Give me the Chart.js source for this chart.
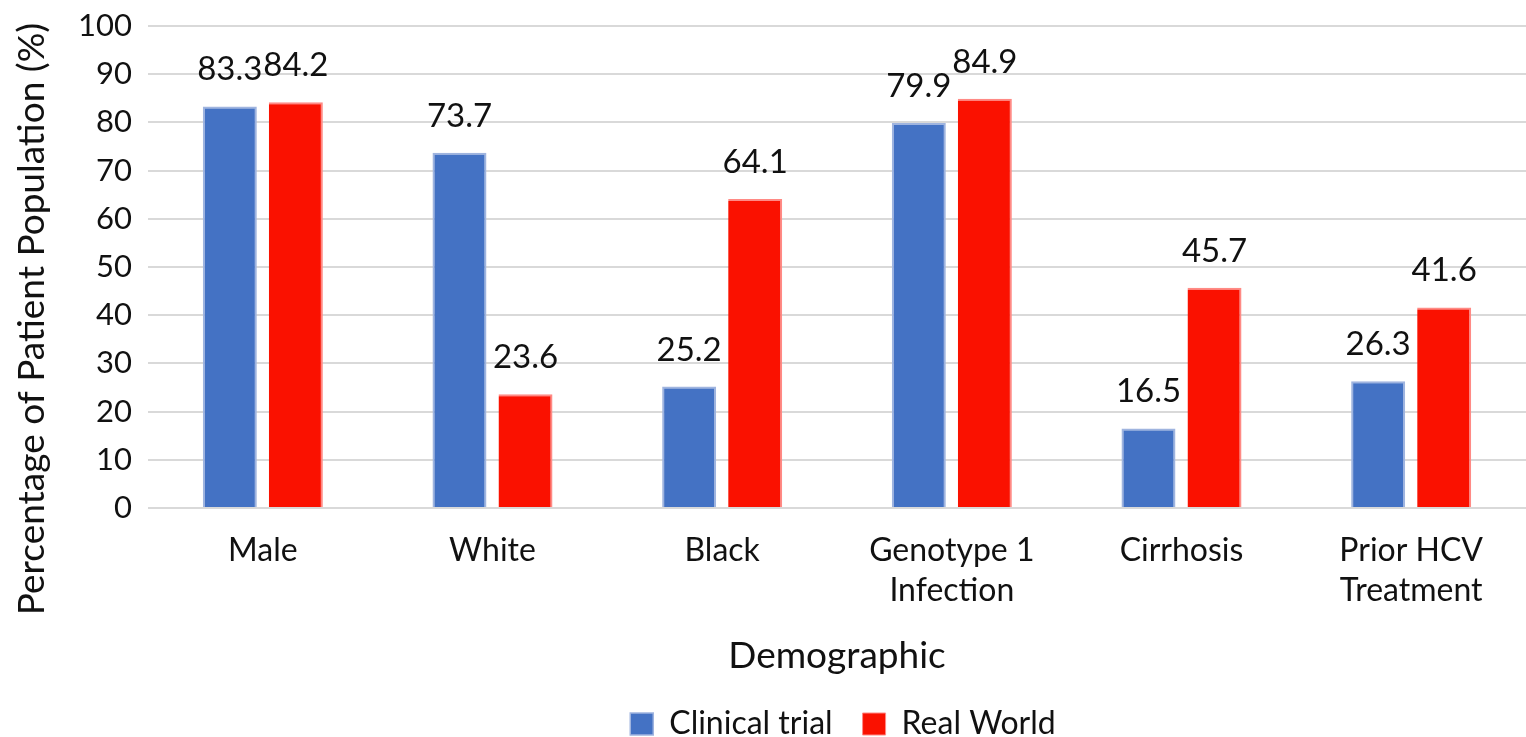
<!DOCTYPE html>
<html>
<head>
<meta charset="utf-8">
<script src="https://cdn.jsdelivr.net/npm/chart.js@4"></script>
<style>
  html, body { margin: 0; padding: 0; background: #fff; }
  #wrap { width: 1526px; height: 737px; position: relative; }
</style>
</head>
<body>
<div id="wrap"><canvas id="chart"></canvas></div>
<script>
// Demographic categories (multi-line labels as arrays)
const categories = [
  'Male',
  'White',
  'Black',
  ['Genotype 1', 'Infection'],
  'Cirrhosis',
  ['Prior HCV', 'Treatment']
];
// Percentage of patient population per group
const clinicalTrial = [83.3, 73.7, 25.2, 79.9, 16.5, 26.3];
const realWorld = [84.2, 23.6, 64.1, 84.9, 45.7, 41.6];
const seriesNames = ['Clinical trial', 'Real World'];
const yTicks = [0, 10, 20, 30, 40, 50, 60, 70, 80, 90, 100];
const xTitle = 'Demographic';
const yTitle = 'Percentage of Patient Population (%)';

const FONT = 'Lato, "Open Sans", sans-serif';
const TEXT = '#111111';

// Draws the value above each bar
const valueLabels = {
  id: 'valueLabels',
  afterDatasetsDraw(chart) {
    const ctx = chart.ctx;
    ctx.save();
    ctx.font = '33px ' + FONT;
    ctx.fillStyle = TEXT;
    ctx.textAlign = 'center';
    ctx.textBaseline = 'alphabetic';
    chart.data.datasets.forEach((ds, i) => {
      chart.getDatasetMeta(i).data.forEach((bar, j) => {
        ctx.fillText(ds.data[j].toFixed(1), bar.x, bar.y - 26);
      });
    });
    ctx.restore();
  }
};

// Vertical axis title, centred on the plot plus its category labels
const sideTitle = {
  id: 'sideTitle',
  afterDraw(chart) {
    const ctx = chart.ctx;
    const area = chart.chartArea;
    ctx.save();
    ctx.font = '37px ' + FONT;
    ctx.fillStyle = TEXT;
    ctx.textAlign = 'center';
    ctx.textBaseline = 'alphabetic';
    ctx.translate(44, (area.top + chart.scales.x.bottom) / 2 - 33);
    ctx.rotate(-Math.PI / 2);
    ctx.fillText(yTitle, 0, 0);
    ctx.restore();
  }
};

// Centre the legend under the plot area rather than the whole canvas
const legendShift = {
  id: 'legendShift',
  afterLayout(chart) {
    const lg = chart.legend;
    if (!lg) return;
    const dx = (chart.chartArea.left + chart.chartArea.right) / 2 - (lg.left + lg.right) / 2 + 6;
    lg.left += dx;
    lg.right += dx;
  }
};

new Chart(document.getElementById('chart'), {
  type: 'bar',
  data: {
    labels: categories,
    datasets: [
      {
        label: seriesNames[0],
        data: clinicalTrial,
        backgroundColor: '#4472C4',
        borderColor: '#9fb4df',
        borderWidth: { left: 2, right: 2, top: 2, bottom: 0 },
        borderSkipped: 'bottom'
      },
      {
        label: seriesNames[1],
        data: realWorld,
        backgroundColor: '#FA1100',
        borderColor: '#ff8a85',
        borderWidth: { left: 0, right: 2, top: 2, bottom: 0 },
        borderSkipped: 'bottom'
      }
    ]
  },
  options: {
    responsive: true,
    maintainAspectRatio: false,
    animation: false,
    devicePixelRatio: 1,
    layout: { padding: { top: 26, right: 0, left: 0, bottom: -13 } },
    datasets: {
      bar: { categoryPercentage: 0.575, barPercentage: 0.818 }
    },
    plugins: {
      legend: {
        position: 'bottom',
        labels: {
          font: { family: FONT, size: 32 },
          color: TEXT,
          boxWidth: 23,
          boxHeight: 22,
          padding: 30,
          useBorderRadius: false
        },
        onClick: null
      },
      tooltip: { enabled: false }
    },
    scales: {
      x: {
        afterFit(scale) {
          scale.height = 170;
          scale.paddingLeft = 0;
          scale.paddingRight = 0;
        },
        grid: { display: false },
        border: { display: false },
        ticks: {
          font: { family: FONT, size: 32, lineHeight: 1.25 },
          color: TEXT,
          padding: 15,
          maxRotation: 0,
          autoSkip: false
        },
        title: {
          display: true,
          text: xTitle,
          font: { family: FONT, size: 37 },
          color: TEXT,
          padding: { top: 0, bottom: 0 }
        }
      },
      y: {
        min: 0,
        max: 100,
        afterBuildTicks(scale) {
          scale.ticks = yTicks.map(v => ({ value: v }));
        },
        afterFit(scale) {
          scale.width = 148;
          scale.paddingTop = 0;
          scale.paddingBottom = 0;
        },
        grid: { color: '#d9d9d9', lineWidth: 2, drawTicks: false },
        border: { display: false },
        ticks: {
          font: { family: FONT, size: 31 },
          color: TEXT,
          padding: 16
        }
      }
    }
  },
  plugins: [valueLabels, sideTitle, legendShift]
});
</script>
</body>
</html>
